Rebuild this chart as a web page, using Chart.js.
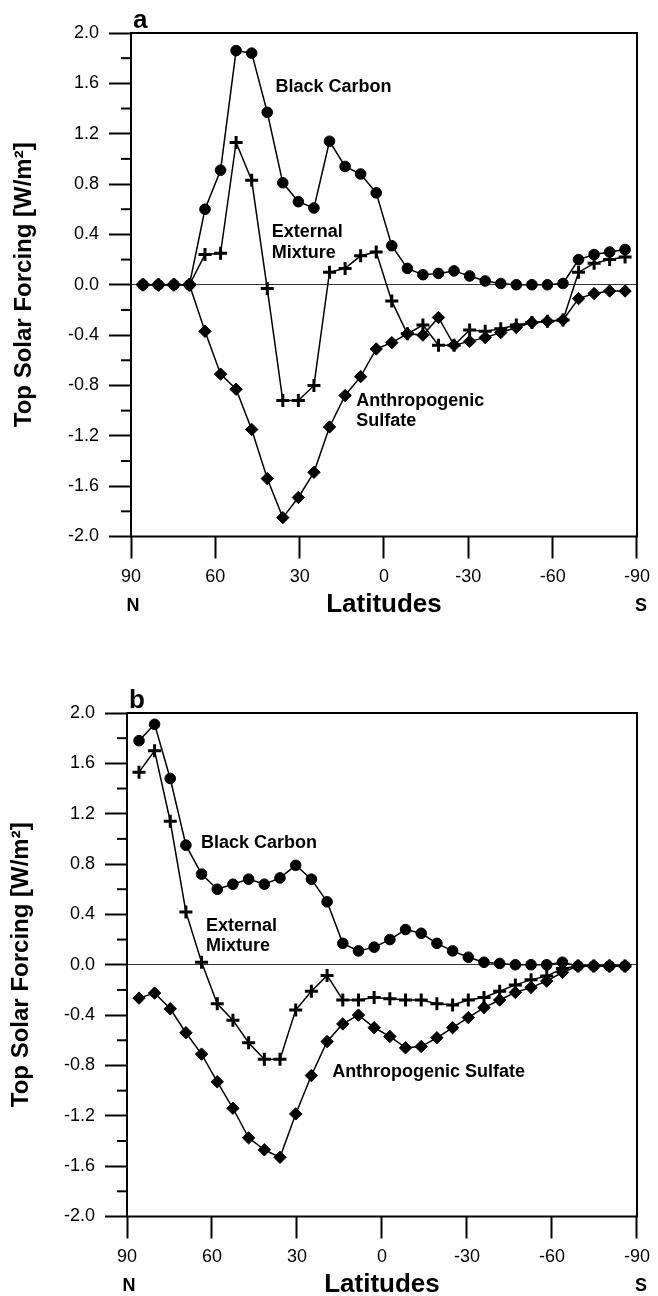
<!DOCTYPE html>
<html>
<head>
<meta charset="utf-8">
<title>Top Solar Forcing</title>
<script src="https://cdn.jsdelivr.net/npm/chart.js@4.4.1/dist/chart.umd.min.js"></script>
<style>
  body { margin: 0; background: #fff; }
  canvas { display: block; }
</style>
</head>
<body>
<canvas id="graficoA" width="658" height="650"></canvas>
<canvas id="graficoB" width="658" height="646"></canvas>
<script>
// latitudes of the model grid (N -> S)
const latitudes = [85.76, 80.27, 74.74, 69.21, 63.68, 58.14, 52.61, 47.07, 41.53, 36.00, 30.46, 24.92, 19.38, 13.84, 8.31, 2.77,
                   -2.77, -8.31, -13.84, -19.38, -24.92, -30.46, -36.00, -41.53, -47.07, -52.61, -58.14, -63.68, -69.21, -74.74, -80.27, -85.76];

const xTicks = [90, 60, 30, 0, -30, -60, -90];
const yTicks = [2.0, 1.6, 1.2, 0.8, 0.4, 0.0, -0.4, -0.8, -1.2, -1.6, -2.0];

// panel a
const blackCarbonA = [0, 0, 0, 0, 0.60, 0.91, 1.86, 1.84, 1.37, 0.81, 0.66, 0.61, 1.14, 0.94, 0.88, 0.73,
                      0.31, 0.13, 0.08, 0.09, 0.11, 0.07, 0.03, 0.01, 0.0, 0.0, 0.0, 0.01, 0.20, 0.24, 0.26, 0.28];
const externalA = [0, 0, 0, 0, 0.24, 0.25, 1.13, 0.83, -0.03, -0.92, -0.92, -0.80, 0.10, 0.13, 0.23, 0.26,
                   -0.13, -0.39, -0.32, -0.48, -0.48, -0.36, -0.37, -0.35, -0.32, -0.30, -0.29, -0.28, 0.10, 0.17, 0.20, 0.22];
const sulfateA = [0, 0, 0, 0, -0.37, -0.71, -0.83, -1.15, -1.54, -1.85, -1.69, -1.49, -1.13, -0.88, -0.73, -0.51,
                  -0.46, -0.39, -0.40, -0.26, -0.48, -0.45, -0.42, -0.38, -0.34, -0.30, -0.29, -0.28, -0.11, -0.07, -0.05, -0.05];

// panel b
const blackCarbonB = [1.78, 1.91, 1.48, 0.95, 0.72, 0.60, 0.64, 0.68, 0.64, 0.69, 0.79, 0.68, 0.50, 0.17, 0.11, 0.14,
                      0.20, 0.28, 0.25, 0.17, 0.11, 0.06, 0.02, 0.01, 0.0, 0.0, 0.0, 0.02, -0.01, -0.01, -0.01, -0.01];
const externalB = [1.53, 1.70, 1.14, 0.42, 0.02, -0.31, -0.44, -0.62, -0.75, -0.75, -0.36, -0.21, -0.085, -0.28, -0.28, -0.26,
                   -0.27, -0.28, -0.28, -0.31, -0.32, -0.28, -0.26, -0.21, -0.16, -0.12, -0.09, -0.03, -0.01, -0.01, -0.01, -0.01];
const sulfateB = [-0.265, -0.225, -0.35, -0.54, -0.71, -0.93, -1.14, -1.375, -1.47, -1.53, -1.185, -0.88, -0.61, -0.47, -0.40, -0.50,
                  -0.57, -0.66, -0.65, -0.58, -0.50, -0.42, -0.34, -0.28, -0.22, -0.18, -0.13, -0.06, -0.01, -0.01, -0.01, -0.01];

const FONT = '"Liberation Sans", Arial, Helvetica, sans-serif';
Chart.defaults.font.family = FONT;
Chart.defaults.color = '#000';

const isMajor = v => yTicks.some(t => Math.abs(t - v) < 1e-6);

// frame, minor ticks and the texts written inside the plot
function extras(cfg) {
    return {
        id: 'extras',
        afterDraw(chart) {
            const {ctx, chartArea: a, scales: {x, y}} = chart;
            ctx.save();
            ctx.strokeStyle = '#000';
            ctx.lineWidth = 2;
            ctx.strokeRect(a.left, a.top, a.right - a.left, a.bottom - a.top);

            y.ticks.forEach(t => {
                if (isMajor(t.value)) return;
                const py = y.getPixelForValue(t.value);
                ctx.beginPath();
                ctx.moveTo(a.left - 10, py);
                ctx.lineTo(a.left, py);
                ctx.stroke();
            });

            ctx.fillStyle = '#000';
            ctx.textBaseline = 'middle';
            ctx.font = 'bold 18px ' + FONT;
            cfg.notes.forEach(n => {
                ctx.textAlign = n.align;
                ctx.fillText(n.text, x.getPixelForValue(n.lat), y.getPixelForValue(n.val));
            });

            ctx.textAlign = 'center';
            ctx.fillText('N', x.getPixelForValue(90) + 2, a.bottom + 70);
            ctx.fillText('S', x.getPixelForValue(-90) + 4, a.bottom + 70);
            ctx.font = 'bold 26px ' + FONT;
            ctx.fillText('Latitudes', (a.left + a.right) / 2, a.bottom + 68);

            ctx.textAlign = 'left';
            ctx.textBaseline = 'alphabetic';
            ctx.font = 'bold 26px ' + FONT;
            ctx.fillText(cfg.letter, a.left + 2, a.top - 5);
            ctx.restore();
        }
    };
}

function makePanel(canvasId, bc, ext, sulf, cfg) {
    const ctx = document.getElementById(canvasId).getContext('2d');
    const toPoints = vals => vals.map((v, i) => ({x: latitudes[i], y: v}));

    const base = {borderColor: '#000', backgroundColor: '#000', pointBackgroundColor: '#000',
                  pointBorderColor: '#000', borderWidth: 1.5, tension: 0};

    new Chart(ctx, {
        type: 'line',
        data: {
            datasets: [
                Object.assign({label: 'Black Carbon', data: toPoints(bc), pointStyle: 'circle', pointRadius: 5.3, pointBorderWidth: 1}, base),
                Object.assign({label: 'External Mixture', data: toPoints(ext), pointStyle: 'cross', pointRadius: 6.5, pointBorderWidth: 3}, base),
                Object.assign({label: 'Anthropogenic Sulfate', data: toPoints(sulf), pointStyle: 'rectRot', pointRadius: 6.2, pointBorderWidth: 1}, base)
            ]
        },
        options: {
            responsive: false,
            animation: false,
            events: [],
            layout: {padding: {top: cfg.top, right: cfg.right, left: 0, bottom: 0}},
            plugins: {
                legend: {display: false},
                tooltip: {enabled: false}
            },
            scales: {
                x: {
                    type: 'linear',
                    min: -90,
                    max: 90,
                    reverse: true,
                    afterFit: s => { s.height = cfg.xHeight; },
                    afterBuildTicks: s => { s.ticks = xTicks.map(v => ({value: v})); },
                    border: {display: false},
                    grid: {color: 'rgba(0,0,0,0)', tickColor: '#000', tickWidth: 2, tickLength: 22},
                    ticks: {padding: 8, font: {size: 18}, maxRotation: 0, autoSkip: false, callback: v => String(v)}
                },
                y: {
                    type: 'linear',
                    min: -2,
                    max: 2,
                    afterFit: s => { s.width = cfg.yWidth; },
                    border: {display: false},
                    grid: {
                        color: c => (c.tick && Math.abs(c.tick.value) < 1e-6) ? '#333' : 'rgba(0,0,0,0)',
                        lineWidth: 1,
                        tickLength: 22,
                        tickWidth: 2,
                        tickColor: c => (c.tick && isMajor(c.tick.value)) ? '#000' : 'rgba(0,0,0,0)'
                    },
                    ticks: {stepSize: 0.2, padding: 10, font: {size: 18}, autoSkip: false,
                            callback: v => isMajor(v) ? v.toFixed(1) : ''},
                    title: {display: true, text: 'Top Solar Forcing [W/m²]',
                            font: {size: 24, weight: 'bold'}, padding: {top: cfg.titlePad, bottom: 0}}
                }
            }
        },
        plugins: [extras(cfg)]
    });
}

makePanel('graficoA', blackCarbonA, externalA, sulfateA, {
    letter: 'a', top: 33, right: 17, xHeight: 113.5, yWidth: 131, titlePad: 10,
    notes: [
        {text: 'Black Carbon', lat: 18, val: 1.57, align: 'center'},
        {text: 'External', lat: 39.9, val: 0.42, align: 'left'},
        {text: 'Mixture', lat: 39.9, val: 0.25, align: 'left'},
        {text: 'Anthropogenic', lat: 9.9, val: -0.92, align: 'left'},
        {text: 'Sulfate', lat: 9.9, val: -1.08, align: 'left'}
    ]
});

makePanel('graficoB', blackCarbonB, externalB, sulfateB, {
    letter: 'b', top: 63, right: 21, xHeight: 79.5, yWidth: 127, titlePad: 7,
    notes: [
        {text: 'Black Carbon', lat: 63.9, val: 0.97, align: 'left'},
        {text: 'External', lat: 62.1, val: 0.31, align: 'left'},
        {text: 'Mixture', lat: 62.1, val: 0.15, align: 'left'},
        {text: 'Anthropogenic Sulfate', lat: 17.6, val: -0.85, align: 'left'}
    ]
});
</script>
</body>
</html>
